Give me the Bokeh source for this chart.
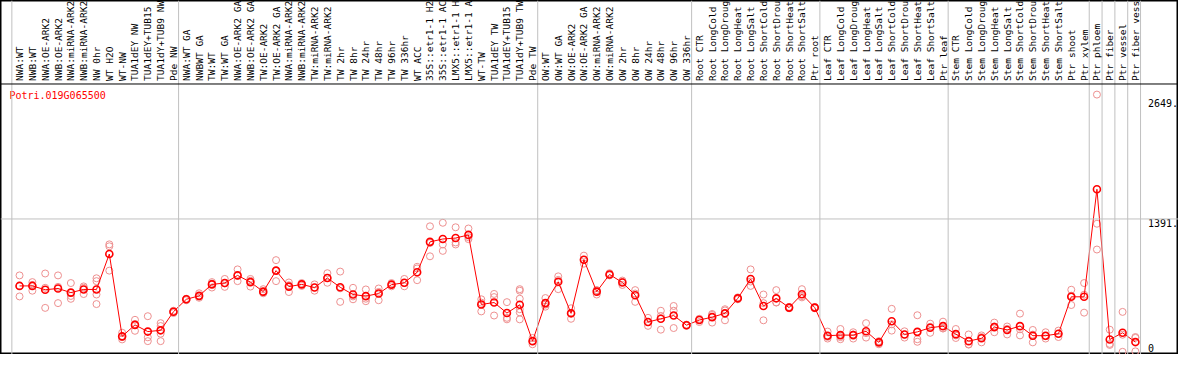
import math
from bokeh.plotting import figure
from bokeh.models import Range1d, Span, ColumnDataSource
from bokeh.core.properties import value
from bokeh.embed import file_html
from bokeh.resources import INLINE

gene = "Potri.019G065500"

labels = [
    "NWA:WT", "NWB:WT", "NWA:OE-ARK2", "NWB:OE-ARK2", "NWA:miRNA-ARK2", "NWB:miRNA-ARK2",
    "NW 0hr", "WT H2O", "WT-NW", "TUA1dEY NW", "TUA1dEY+TUB15", "TUA1dY+TUB9 NW", "Pde NW",
    "NWA:WT GA", "NWBWT GA", "TW:WT", "TW:WT GA", "NWA:OE-ARK2 GA", "NWB:OE-ARK2 GA",
    "TW:OE-ARK2", "TW:OE-ARK2 GA", "NWA:miRNA-ARK2", "NWB:miRNA-ARK2", "TW:miRNA-ARK2",
    "TW:miRNA-ARK2", "TW 2hr", "TW 8hr", "TW 24hr", "TW 48hr", "TW 96hr", "TW 336hr",
    "WT ACC", "35S::etr1-1 H2", "35S::etr1-1 AC", "LMX5::etr1-1 H", "LMX5::etr1-1 A",
    "WT-TW", "TUA1dEY TW", "TUA1dEY+TUB15", "TUA1dY+TUB9 TW", "Pde TW",
    "OW:WT", "OW:WT GA", "OW:OE-ARK2", "OW:OE-ARK2 GA", "OW:miRNA-ARK2", "OW:miRNA-ARK2",
    "OW 2hr", "OW 8hr", "OW 24hr", "OW 48hr", "OW 96hr", "OW 336hr",
    "Root CTR", "Root LongCold", "Root LongDroug", "Root LongHeat", "Root LongSalt",
    "Root ShortCold", "Root ShortDrou", "Root ShortHeat", "Root ShortSalt", "Ptr root",
    "Leaf CTR", "Leaf LongCold", "Leaf LongDroug", "Leaf LongHeat", "Leaf LongSalt",
    "Leaf ShortCold", "Leaf ShortDrou", "Leaf ShortHeat", "Leaf ShortSalt", "Ptr leaf",
    "Stem CTR", "Stem LongCold", "Stem LongDroug", "Stem LongHeat", "Stem LongSalt",
    "Stem ShortCold", "Stem ShortDrou", "Stem ShortHeat", "Stem ShortSalt",
    "Ptr shoot", "Ptr xylem", "Ptr phloem", "Ptr fiber", "Ptr vessel", "Ptr fiber vess",
]

means = [
    690, 690, 650, 663, 620, 653, 653, 1024, 162, 282, 212, 225, 420,
    550, 586, 706, 720, 800, 730, 630, 850, 683, 706, 673, 773, 676, 600, 583, 610, 703,
    723, 833, 1151, 1181, 1191, 1224, 496, 516, 406, 493, 112,
    510, 733, 403, 964, 630, 810, 726, 593, 312, 346, 380, 279,
    333, 363, 403, 560, 763, 480, 560, 463, 603, 463,
    169, 175, 175, 215, 99, 320, 182, 209, 252, 269,
    185, 112, 142, 259, 229, 269, 169, 169, 189, 576, 576,
    1702, 129, 199, 102,
]

replicates = [
    [800, 690, 580], [730, 700, 640], [820, 670, 460], [800, 680, 510], [720, 585, 555],
    [685, 670, 605], [770, 740, 600, 500], [1125, 1105, 850], [200, 155, 130], [335, 290, 220],
    [373, 152, 112], [300, 270, 190, 112], [430, 420, 406],
    [556, 550, 540], [613, 580, 566], [730, 715, 673], [763, 717, 680], [863, 797, 740],
    [763, 744, 683], [656, 621, 613], [960, 850, 740], [726, 697, 626], [720, 708, 690],
    [706, 673, 640], [823, 773, 723], [840, 665, 523], [670, 580, 550], [653, 556, 530],
    [663, 627, 540], [720, 703, 686], [763, 720, 686], [890, 873, 750], [1314, 1139, 1000],
    [1351, 1124, 1057], [1304, 1145, 1124], [1291, 1200, 1180], [550, 515, 423],
    [606, 573, 380], [520, 356, 340], [656, 640, 556, 446, 413, 340], [145, 112, 79],
    [563, 494, 473], [790, 753, 656], [456, 407, 346], [1007, 962, 923], [646, 644, 600],
    [823, 807, 800], [746, 732, 700], [646, 610, 523], [356, 310, 272], [430, 376, 232],
    [480, 430, 249], [285, 279, 273],
    [346, 340, 312], [396, 386, 306], [446, 433, 330], [570, 560, 550], [863, 736, 690],
    [600, 510, 330], [646, 518, 516], [470, 463, 456], [656, 583, 570], [470, 463, 456],
    [212, 156, 139], [239, 154, 132], [205, 181, 139], [300, 196, 149], [112, 106, 79],
    [450, 288, 222], [215, 182, 149], [383, 132, 105], [295, 262, 199], [316, 245, 245],
    [239, 172, 145], [182, 79, 76], [172, 155, 99], [306, 266, 205], [265, 240, 182],
    [400, 236, 172], [229, 180, 99], [205, 163, 139], [222, 190, 155], [650, 588, 490],
    [720, 598, 410],
    [2693, 1341, 1071], [232, 83, 72], [418, 179, 0], [155, 146, 5],
]

group_ends = [0, 13, 41, 53, 63, 73, 84, 85, 86, 87, 88]
tick_values = [0, 1391, 2649]
tick_labels = ["0", "1391.", "2649."]

xs = list(range(1, len(labels) + 1))
rx, ry = [], []
for x, reps in zip(xs, replicates):
    for r in reps:
        rx.append(x)
        ry.append(r)

# mapping of reference layout
Y_HEADER_LINE = 2804
Y_LABEL_BASE = 2836
Y_TITLE = 2746

p = figure(width=1178, height=354, output_backend="svg", toolbar_location=None,
           x_range=Range1d(-0.4846, 91.36), y_range=Range1d(-28, 3678),
           x_axis_type=None, y_axis_type=None, min_border=0,
           background_fill_color="white", border_fill_color="white")
p.grid.visible = False
p.outline_line_color = "black"
p.outline_line_width = 2

for g in group_ends:
    p.add_layout(Span(location=g + 0.4, dimension="height", line_color="#c0c0c0", line_width=1))
p.add_layout(Span(location=tick_values[1], dimension="width", line_color="#c0c0c0", line_width=1))
p.add_layout(Span(location=Y_HEADER_LINE, dimension="width", line_color="black", line_width=1))

lab_src = ColumnDataSource(dict(x=xs, y=[Y_LABEL_BASE] * len(xs), t=labels))
p.text(x="x", y="y", text="t", source=lab_src, angle=math.pi / 2,
       text_align="left", text_baseline="middle", text_font=value("DejaVu Sans Mono"),
       text_font_size="9.5px", text_color="black")

p.text(x=[0.21], y=[Y_TITLE], text=[gene], text_align="left", text_baseline="top",
       text_font=value("DejaVu Sans Mono"), text_font_size="10px", text_color="#ff0000")

tick_x = 88.98
p.text(x=[tick_x, tick_x], y=tick_values[1:], text=tick_labels[1:], text_align="left",
       text_baseline="top", text_font=value("DejaVu Sans Mono"), text_font_size="10px",
       text_color="black")
p.text(x=[tick_x], y=[tick_values[0]], text=[tick_labels[0]], text_align="left",
       text_baseline="bottom", text_font=value("DejaVu Sans Mono"), text_font_size="10px",
       text_color="black")

p.scatter(rx, ry, marker="circle", size=7, fill_color=None, line_color="#ee9090", line_width=1)
p.line(xs, means, line_color="#ff0000", line_width=1)
p.scatter(xs, means, marker="circle", size=7, fill_color=None, line_color="#ff0000", line_width=1.6)

open("out.html", "w").write(file_html(p, INLINE))
